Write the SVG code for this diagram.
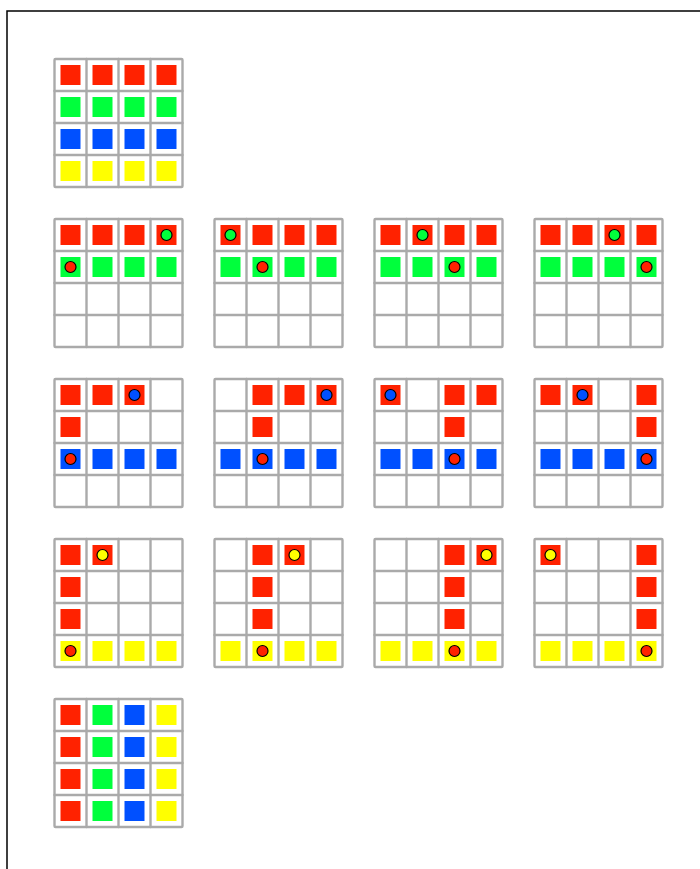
<svg xmlns="http://www.w3.org/2000/svg" xmlns:xlink="http://www.w3.org/1999/xlink" width="700" height="869" viewBox="0 0 700 869">
<style>
.bd{fill:none;stroke:#000;stroke-width:1.5}
.fr{fill:none;stroke:#aaaaaa;stroke-width:2.4;stroke-linejoin:round;stroke-linecap:round}
.r{fill:#ff2200}.g{fill:#00ff3c}.b{fill:#0050ff}.y{fill:#ffff00}
.c{stroke:#000;stroke-width:1.2}
</style>
<defs>
<g id="frame">
<rect class="fr" x="0" y="0" width="128" height="128" rx="1"/>
<path class="fr" d="M32,0V128M64,0V128M96,0V128M0,32H128M0,64H128M0,96H128"/>
</g>
<rect id="sq" x="6" y="6" width="20" height="20"/>
<circle id="ci" cx="16" cy="16" r="5.5"/>
</defs>
<rect width="700" height="869" fill="#fff"/>
<path class="bd" d="M7,869V11H700"/>

<g id="grid-start" transform="translate(54.5,59)">
<use xlink:href="#sq" class="r" x="0" y="0"/><use xlink:href="#sq" class="r" x="32" y="0"/><use xlink:href="#sq" class="r" x="64" y="0"/><use xlink:href="#sq" class="r" x="96" y="0"/>
<use xlink:href="#sq" class="g" x="0" y="32"/><use xlink:href="#sq" class="g" x="32" y="32"/><use xlink:href="#sq" class="g" x="64" y="32"/><use xlink:href="#sq" class="g" x="96" y="32"/>
<use xlink:href="#sq" class="b" x="0" y="64"/><use xlink:href="#sq" class="b" x="32" y="64"/><use xlink:href="#sq" class="b" x="64" y="64"/><use xlink:href="#sq" class="b" x="96" y="64"/>
<use xlink:href="#sq" class="y" x="0" y="96"/><use xlink:href="#sq" class="y" x="32" y="96"/><use xlink:href="#sq" class="y" x="64" y="96"/><use xlink:href="#sq" class="y" x="96" y="96"/>
<use xlink:href="#frame"/>
</g>

<g id="grid-g1" transform="translate(54.5,219)">
<use xlink:href="#sq" class="r" x="0" y="0"/><use xlink:href="#sq" class="r" x="32" y="0"/><use xlink:href="#sq" class="r" x="64" y="0"/><use xlink:href="#sq" class="r" x="96" y="0"/>
<use xlink:href="#sq" class="g" x="0" y="32"/><use xlink:href="#sq" class="g" x="32" y="32"/><use xlink:href="#sq" class="g" x="64" y="32"/><use xlink:href="#sq" class="g" x="96" y="32"/>
<use xlink:href="#ci" class="g c" x="96" y="0"/><use xlink:href="#ci" class="r c" x="0" y="32"/>
<use xlink:href="#frame"/>
</g>
<g id="grid-g2" transform="translate(214.5,219)">
<use xlink:href="#sq" class="r" x="0" y="0"/><use xlink:href="#sq" class="r" x="32" y="0"/><use xlink:href="#sq" class="r" x="64" y="0"/><use xlink:href="#sq" class="r" x="96" y="0"/>
<use xlink:href="#sq" class="g" x="0" y="32"/><use xlink:href="#sq" class="g" x="32" y="32"/><use xlink:href="#sq" class="g" x="64" y="32"/><use xlink:href="#sq" class="g" x="96" y="32"/>
<use xlink:href="#ci" class="g c" x="0" y="0"/><use xlink:href="#ci" class="r c" x="32" y="32"/>
<use xlink:href="#frame"/>
</g>
<g id="grid-g3" transform="translate(374.5,219)">
<use xlink:href="#sq" class="r" x="0" y="0"/><use xlink:href="#sq" class="r" x="32" y="0"/><use xlink:href="#sq" class="r" x="64" y="0"/><use xlink:href="#sq" class="r" x="96" y="0"/>
<use xlink:href="#sq" class="g" x="0" y="32"/><use xlink:href="#sq" class="g" x="32" y="32"/><use xlink:href="#sq" class="g" x="64" y="32"/><use xlink:href="#sq" class="g" x="96" y="32"/>
<use xlink:href="#ci" class="g c" x="32" y="0"/><use xlink:href="#ci" class="r c" x="64" y="32"/>
<use xlink:href="#frame"/>
</g>
<g id="grid-g4" transform="translate(534.5,219)">
<use xlink:href="#sq" class="r" x="0" y="0"/><use xlink:href="#sq" class="r" x="32" y="0"/><use xlink:href="#sq" class="r" x="64" y="0"/><use xlink:href="#sq" class="r" x="96" y="0"/>
<use xlink:href="#sq" class="g" x="0" y="32"/><use xlink:href="#sq" class="g" x="32" y="32"/><use xlink:href="#sq" class="g" x="64" y="32"/><use xlink:href="#sq" class="g" x="96" y="32"/>
<use xlink:href="#ci" class="g c" x="64" y="0"/><use xlink:href="#ci" class="r c" x="96" y="32"/>
<use xlink:href="#frame"/>
</g>

<g id="grid-b1" transform="translate(54.5,379)">
<use xlink:href="#sq" class="r" x="0" y="0"/><use xlink:href="#sq" class="r" x="32" y="0"/><use xlink:href="#sq" class="r" x="64" y="0"/>
<use xlink:href="#sq" class="r" x="0" y="32"/>
<use xlink:href="#sq" class="b" x="0" y="64"/><use xlink:href="#sq" class="b" x="32" y="64"/><use xlink:href="#sq" class="b" x="64" y="64"/><use xlink:href="#sq" class="b" x="96" y="64"/>
<use xlink:href="#ci" class="b c" x="64" y="0"/><use xlink:href="#ci" class="r c" x="0" y="64"/>
<use xlink:href="#frame"/>
</g>
<g id="grid-b2" transform="translate(214.5,379)">
<use xlink:href="#sq" class="r" x="32" y="0"/><use xlink:href="#sq" class="r" x="64" y="0"/><use xlink:href="#sq" class="r" x="96" y="0"/>
<use xlink:href="#sq" class="r" x="32" y="32"/>
<use xlink:href="#sq" class="b" x="0" y="64"/><use xlink:href="#sq" class="b" x="32" y="64"/><use xlink:href="#sq" class="b" x="64" y="64"/><use xlink:href="#sq" class="b" x="96" y="64"/>
<use xlink:href="#ci" class="b c" x="96" y="0"/><use xlink:href="#ci" class="r c" x="32" y="64"/>
<use xlink:href="#frame"/>
</g>
<g id="grid-b3" transform="translate(374.5,379)">
<use xlink:href="#sq" class="r" x="0" y="0"/><use xlink:href="#sq" class="r" x="64" y="0"/><use xlink:href="#sq" class="r" x="96" y="0"/>
<use xlink:href="#sq" class="r" x="64" y="32"/>
<use xlink:href="#sq" class="b" x="0" y="64"/><use xlink:href="#sq" class="b" x="32" y="64"/><use xlink:href="#sq" class="b" x="64" y="64"/><use xlink:href="#sq" class="b" x="96" y="64"/>
<use xlink:href="#ci" class="b c" x="0" y="0"/><use xlink:href="#ci" class="r c" x="64" y="64"/>
<use xlink:href="#frame"/>
</g>
<g id="grid-b4" transform="translate(534.5,379)">
<use xlink:href="#sq" class="r" x="0" y="0"/><use xlink:href="#sq" class="r" x="32" y="0"/><use xlink:href="#sq" class="r" x="96" y="0"/>
<use xlink:href="#sq" class="r" x="96" y="32"/>
<use xlink:href="#sq" class="b" x="0" y="64"/><use xlink:href="#sq" class="b" x="32" y="64"/><use xlink:href="#sq" class="b" x="64" y="64"/><use xlink:href="#sq" class="b" x="96" y="64"/>
<use xlink:href="#ci" class="b c" x="32" y="0"/><use xlink:href="#ci" class="r c" x="96" y="64"/>
<use xlink:href="#frame"/>
</g>

<g id="grid-y1" transform="translate(54.5,539)">
<use xlink:href="#sq" class="r" x="0" y="0"/><use xlink:href="#sq" class="r" x="32" y="0"/>
<use xlink:href="#sq" class="r" x="0" y="32"/><use xlink:href="#sq" class="r" x="0" y="64"/>
<use xlink:href="#sq" class="y" x="0" y="96"/><use xlink:href="#sq" class="y" x="32" y="96"/><use xlink:href="#sq" class="y" x="64" y="96"/><use xlink:href="#sq" class="y" x="96" y="96"/>
<use xlink:href="#ci" class="y c" x="32" y="0"/><use xlink:href="#ci" class="r c" x="0" y="96"/>
<use xlink:href="#frame"/>
</g>
<g id="grid-y2" transform="translate(214.5,539)">
<use xlink:href="#sq" class="r" x="32" y="0"/><use xlink:href="#sq" class="r" x="64" y="0"/>
<use xlink:href="#sq" class="r" x="32" y="32"/><use xlink:href="#sq" class="r" x="32" y="64"/>
<use xlink:href="#sq" class="y" x="0" y="96"/><use xlink:href="#sq" class="y" x="32" y="96"/><use xlink:href="#sq" class="y" x="64" y="96"/><use xlink:href="#sq" class="y" x="96" y="96"/>
<use xlink:href="#ci" class="y c" x="64" y="0"/><use xlink:href="#ci" class="r c" x="32" y="96"/>
<use xlink:href="#frame"/>
</g>
<g id="grid-y3" transform="translate(374.5,539)">
<use xlink:href="#sq" class="r" x="64" y="0"/><use xlink:href="#sq" class="r" x="96" y="0"/>
<use xlink:href="#sq" class="r" x="64" y="32"/><use xlink:href="#sq" class="r" x="64" y="64"/>
<use xlink:href="#sq" class="y" x="0" y="96"/><use xlink:href="#sq" class="y" x="32" y="96"/><use xlink:href="#sq" class="y" x="64" y="96"/><use xlink:href="#sq" class="y" x="96" y="96"/>
<use xlink:href="#ci" class="y c" x="96" y="0"/><use xlink:href="#ci" class="r c" x="64" y="96"/>
<use xlink:href="#frame"/>
</g>
<g id="grid-y4" transform="translate(534.5,539)">
<use xlink:href="#sq" class="r" x="0" y="0"/><use xlink:href="#sq" class="r" x="96" y="0"/>
<use xlink:href="#sq" class="r" x="96" y="32"/><use xlink:href="#sq" class="r" x="96" y="64"/>
<use xlink:href="#sq" class="y" x="0" y="96"/><use xlink:href="#sq" class="y" x="32" y="96"/><use xlink:href="#sq" class="y" x="64" y="96"/><use xlink:href="#sq" class="y" x="96" y="96"/>
<use xlink:href="#ci" class="y c" x="0" y="0"/><use xlink:href="#ci" class="r c" x="96" y="96"/>
<use xlink:href="#frame"/>
</g>

<g id="grid-end" transform="translate(54.5,699)">
<use xlink:href="#sq" class="r" x="0" y="0"/><use xlink:href="#sq" class="g" x="32" y="0"/><use xlink:href="#sq" class="b" x="64" y="0"/><use xlink:href="#sq" class="y" x="96" y="0"/>
<use xlink:href="#sq" class="r" x="0" y="32"/><use xlink:href="#sq" class="g" x="32" y="32"/><use xlink:href="#sq" class="b" x="64" y="32"/><use xlink:href="#sq" class="y" x="96" y="32"/>
<use xlink:href="#sq" class="r" x="0" y="64"/><use xlink:href="#sq" class="g" x="32" y="64"/><use xlink:href="#sq" class="b" x="64" y="64"/><use xlink:href="#sq" class="y" x="96" y="64"/>
<use xlink:href="#sq" class="r" x="0" y="96"/><use xlink:href="#sq" class="g" x="32" y="96"/><use xlink:href="#sq" class="b" x="64" y="96"/><use xlink:href="#sq" class="y" x="96" y="96"/>
<use xlink:href="#frame"/>
</g>
<g id="connectors"/>
</svg>
